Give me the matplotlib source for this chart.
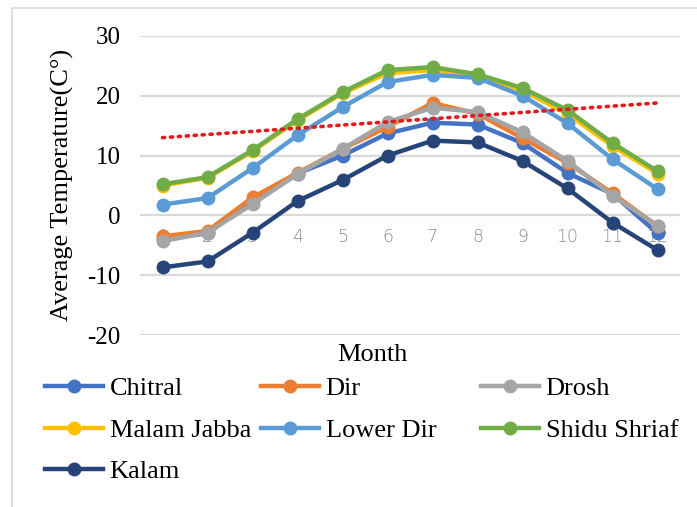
import matplotlib
matplotlib.use("Agg")
import matplotlib.pyplot as plt
from matplotlib.patches import Rectangle
from matplotlib.lines import Line2D
import numpy as np

plt.rcParams["axes.unicode_minus"] = False

# monthly average temperature per station
months = list(range(1, 13))
chitral = [-4.0, -3.0, 2.5, 7.0, 10.0, 13.7, 15.5, 15.2, 12.1, 7.1, 3.6, -3.0]
dir_ = [-3.5, -2.6, 3.0, 7.1, 11.1, 14.8, 18.8, 17.0, 12.9, 8.8, 3.7, -1.8]
drosh = [-4.3, -2.9, 1.9, 6.9, 11.1, 15.6, 18.0, 17.3, 13.9, 9.1, 3.3, -1.7]
malam_jabba = [5.0, 6.3, 10.7, 15.9, 20.4, 23.8, 24.3, 23.3, 20.9, 17.0, 11.6, 7.0]
lower_dir = [1.8, 2.9, 7.9, 13.4, 18.1, 22.3, 23.5, 23.0, 20.0, 15.4, 9.4, 4.4]
shidu_shriaf = [5.2, 6.4, 10.9, 16.1, 20.6, 24.3, 24.8, 23.6, 21.3, 17.6, 12.1, 7.4]
kalam = [-8.7, -7.7, -2.9, 2.4, 5.9, 10.0, 12.5, 12.2, 9.1, 4.5, -1.2, -5.8]
trend_ends = [13.0, 18.8]  # linear trend value at month 1 and month 12

series = [
    ("Chitral", chitral, "#4472C4"),
    ("Dir", dir_, "#ED7D31"),
    ("Drosh", drosh, "#A5A5A5"),
    ("Malam Jabba", malam_jabba, "#FFC000"),
    ("Lower Dir", lower_dir, "#5B9BD5"),
    ("Shidu Shriaf", shidu_shriaf, "#70AD47"),
    ("Kalam", kalam, "#264478"),
]

serif = "Liberation Serif"

fig = plt.figure(figsize=(6.97, 5.07), dpi=100)
W, H = 697, 507

# chart frame
fig.patches.append(Rectangle((12 / W, -0.1), 1.2, (H - 8) / H + 0.1,
                             transform=fig.transFigure, fill=False,
                             edgecolor="#D9D9D9", linewidth=1.2))

ax = fig.add_axes([140 / W, 1 - 335 / H, 540 / W, 299 / H])
for name, vals, col in series:
    ax.plot(months, vals, color=col, lw=3.2, marker="o", ms=9,
            solid_capstyle="round", label=name, zorder=3)

# trendline
tx = np.array([months[0], months[-1]])
ax.plot(tx, trend_ends, color="#E31A1C", lw=2.6, linestyle=(0, (0.6, 1.6)),
        dash_capstyle="round", zorder=4)

ax.set_xlim(0.5, 12.5)
ax.set_ylim(-20, 30)
ax.set_yticks([-20, -10, 0, 10, 20, 30])
ax.set_xticks(months)
ax.grid(axis="y", color="#D9D9D9", lw=1.6)
ax.set_axisbelow(True)
for s in ax.spines.values():
    s.set_visible(False)
ax.spines["bottom"].set_position(("data", 0))
ax.tick_params(axis="both", length=0)
ax.tick_params(axis="y", labelsize=18, pad=14)
ax.tick_params(axis="x", labelsize=12.5, pad=9, labelcolor="#8C8C8C")
for lab in ax.get_yticklabels():
    lab.set_fontfamily(serif)
for lab in ax.get_xticklabels():
    lab.set_fontfamily("DejaVu Sans")
    lab.set_fontweight("light")

fig.text(62 / W, 1 - 185 / H, "Average Temperature(C°)", rotation=90,
         ha="center", va="center", fontsize=19, family=serif)
fig.text(372 / W, 1 - 355 / H, "Month", ha="center", va="center",
         fontsize=19, family=serif)

# legend: three fixed-width columns, filled row by row
col_x = [45, 261, 481]
for c in range(3):
    items = series[c::3]
    handles = [Line2D([], [], color=col, lw=3.2, marker="o", ms=9) for _, _, col in items]
    leg = fig.legend(handles, [n for n, _, _ in items], loc="upper left",
                     bbox_to_anchor=(col_x[c] / W, 1 - 377 / H), frameon=False,
                     prop={"family": serif, "size": 19}, handlelength=2.2,
                     handletextpad=0.25, labelspacing=0.68, borderaxespad=0,
                     borderpad=0)

fig.savefig("out.png", dpi=100)
